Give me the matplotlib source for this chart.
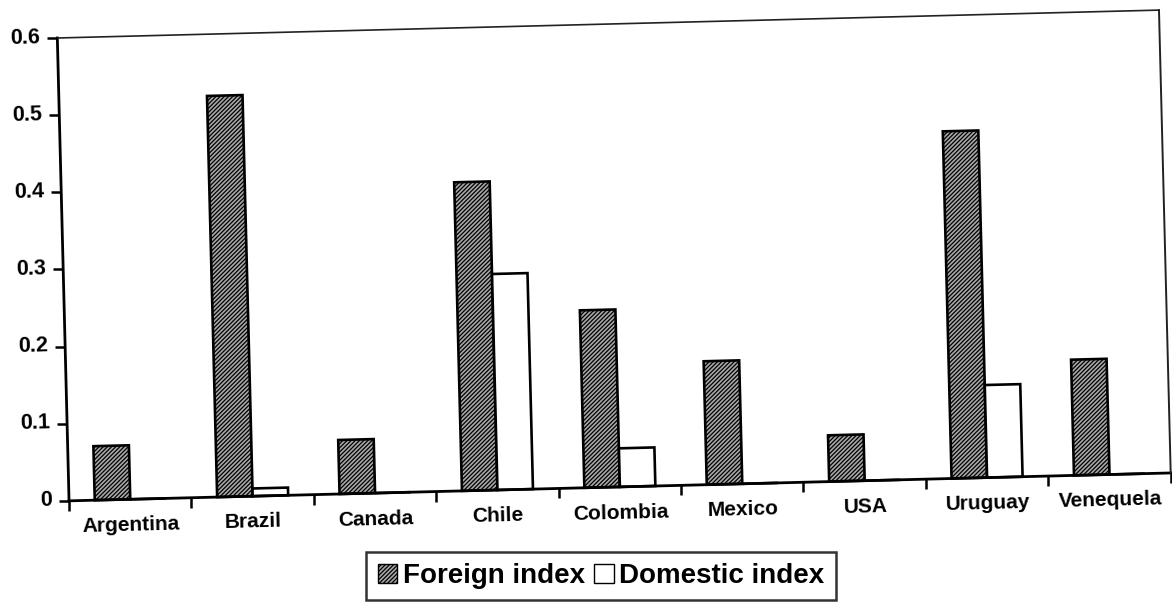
import matplotlib
matplotlib.use("Agg")
import matplotlib.pyplot as plt
import numpy as np
from matplotlib.transforms import Affine2D, offset_copy

countries = ["Argentina", "Brazil", "Canada", "Chile", "Colombia",
             "Mexico", "USA", "Uruguay", "Venequela"]
foreign = [0.07, 0.52, 0.07, 0.40, 0.23, 0.16, 0.06, 0.45, 0.15]
domestic = [0.0, 0.01, 0.0, 0.28, 0.05, 0.0, 0.0, 0.12, 0.0]
yticks = [0.0, 0.1, 0.2, 0.3, 0.4, 0.5, 0.6]
ytick_labels = ["0", "0.1", "0.2", "0.3", "0.4", "0.5", "0.6"]

plt.rcParams["font.family"] = ["Liberation Sans", "DejaVu Sans"]
plt.rcParams["font.weight"] = "bold"
plt.rcParams["hatch.linewidth"] = 0.9

W, H = 1172, 613
fig = plt.figure(figsize=(W / 100, H / 100), dpi=100)
ax = fig.add_axes([63 / W, 1 - 487 / H, 1102 / W, 463 / H])
ax.set_xlim(0, len(countries))
ax.set_ylim(0, 0.6)
ax.set_autoscale_on(False)
ax.axis("off")

# the printed page is a little skewed, so every mark gets the same small tilt
ANGLE = 1.45
tilt = Affine2D().rotate_deg_around(613, H - 255, ANGLE)
data_t = ax.transData + tilt

x = np.arange(len(countries)) + 0.5
w = 0.29
fb = ax.bar(x - w / 2, foreign, w, facecolor="#a8a8a8", edgecolor="black",
            linewidth=1.9, hatch="////////", label="Foreign index",
            transform=data_t, clip_on=False)
db = ax.bar(x + w / 2, domestic, w, facecolor="white", edgecolor="black",
            linewidth=1.9, label="Domestic index",
            transform=data_t, clip_on=False)

# frame: heavy value/category axes, lighter top and right edges
n = len(countries)
ax.plot([0, 0], [0, 0.6], color="black", lw=2.0, transform=data_t, clip_on=False)
ax.plot([0, n], [0, 0], color="black", lw=2.0, transform=data_t, clip_on=False)
ax.plot([0, n], [0.6, 0.6], color="#222222", lw=1.2, transform=data_t, clip_on=False)
ax.plot([n, n], [0, 0.6], color="#222222", lw=1.4, transform=data_t, clip_on=False)

# tick marks
ax.plot([0] * len(yticks), yticks, ls="none", marker=0, markersize=7,
        mew=1.8, color="black", transform=data_t, clip_on=False)
ax.plot(np.arange(n + 1), [0] * (n + 1), ls="none", marker=3, markersize=7,
        mew=1.8, color="black", transform=data_t, clip_on=False)

ylab_t = offset_copy(ax.transData, x=-17, y=1, units="dots") + tilt
for v, lab in zip(yticks, ytick_labels):
    ax.text(0, v, lab, transform=ylab_t, ha="right", va="center",
            rotation=ANGLE, rotation_mode="anchor", fontsize=15.5,
            fontweight="bold")

xlab_t = offset_copy(ax.transData, x=0, y=-26, units="dots") + tilt
for xi, name in zip(x, countries):
    ax.text(xi, 0, name, transform=xlab_t, ha="center", va="center",
            rotation=ANGLE, rotation_mode="anchor", fontsize=15,
            fontweight="bold")

leg = fig.legend(handles=[fb, db], loc="center",
                 bbox_to_anchor=(601 / W, 1 - 576 / H), ncol=2,
                 frameon=True, fancybox=False, edgecolor="black",
                 prop=dict(size=20, weight="bold"),
                 handlelength=0.7, handleheight=0.7, handletextpad=0.2,
                 columnspacing=0.35, borderpad=0.4, borderaxespad=0)
leg.get_frame().set_linewidth(1.8)
for h in leg.legend_handles:
    h.set_linewidth(1.0)

fig.savefig("out.png", dpi=100, facecolor="white")
